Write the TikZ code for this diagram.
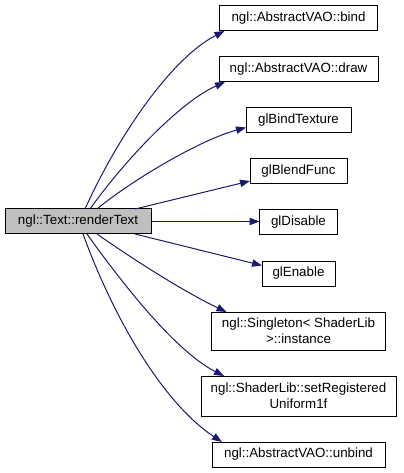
\documentclass[tikz,border=0pt]{standalone}
\usepackage{fontspec}
\setmainfont{Liberation Sans}
\usetikzlibrary{arrows.meta, positioning}

\definecolor{callblue}{RGB}{25,25,112}
\definecolor{callergray}{RGB}{191,191,191}

\begin{document}
\begin{tikzpicture}[x=0.75pt, y=-0.75pt, node distance=19.5pt, >={Triangle[length=7.5pt, width=5.5pt]},
  fn/.style={draw=black, fill=white, rectangle, line width=0.75pt, inner sep=1pt, outer sep=0pt, minimum height=18.75pt, text centered, align=center, font=\fontsize{10pt}{12pt}\selectfont},
  caller/.style={fn, fill=callergray},
  call/.style={->, draw=callblue, line width=0.75pt}]

  \useasboundingbox (0,0) rectangle (403,473);

  \node [caller, minimum width=109.5pt] (render) at (78,221.5) {ngl::Text::renderText};

  \node [fn, minimum width=118.5pt] (bind) at (298.5,18.5) {ngl::AbstractVAO::bind};
  \node [fn, minimum width=119.25pt, below=of bind] (drawvao) {ngl::AbstractVAO::draw};
  \node [fn, minimum width=78.75pt, below=of drawvao] (bindtex) {glBindTexture};
  \node [fn, minimum width=72.75pt, below=of bindtex] (blend) {glBlendFunc};
  \node [fn, minimum width=58.5pt, below=of blend] (disable) {glDisable};
  \node [fn, minimum width=54.75pt, below=of disable] (enable) {glEnable};
  \node [fn, minimum width=130.5pt, minimum height=28.5pt, below=of enable] (instance) {ngl::Singleton< ShaderLib\\>::instance};
  \node [fn, minimum width=146.25pt, minimum height=30pt, below=of instance] (uniform) {ngl::ShaderLib::setRegistered\\Uniform1f};
  \node [fn, minimum width=129.75pt, below=of uniform] (unbind) {ngl::AbstractVAO::unbind};

  \draw [call] ([shift={(7,0)}]render.north) .. controls +(33,-73) and +(-53,27) .. ([shift={(5,0)}]bind.south west);
  \draw [call] ([shift={(12,0)}]render.north) .. controls +(35,-49) and +(-45,20) .. ([shift={(6,0)}]drawvao.south west);
  \draw [call] ([shift={(19,0)}]render.north) .. controls +(31,-26) and +(-48,13) .. ([shift={(0,7)}]bindtex.west);
  \draw [call] ([shift={(57,0)}]render.north) -- ([shift={(0,-3)}]blend.south west);
  \draw [call] (render.east) -- (render.east -| disable.west);
  \draw [call] ([shift={(57,0)}]render.south) -- ([shift={(0,-8)}]enable.west);
  \draw [call] ([shift={(19,0)}]render.south) .. controls +(40,28) and +(-40,-19) .. ([shift={(15,0)}]instance.north west);
  \draw [call] ([shift={(9,0)}]render.south) .. controls +(35,49) and +(-49,-25) .. ([shift={(23,0)}]uniform.north west);
  \draw [call] ([shift={(5,0)}]render.south) .. controls +(31,85) and +(-59,-39) .. ([shift={(10,0)}]unbind.north west);
\end{tikzpicture}
\end{document}
